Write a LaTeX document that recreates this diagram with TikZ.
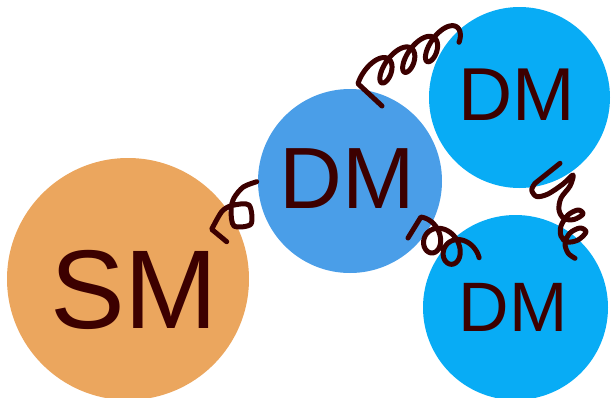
\documentclass[tikz,border=0pt]{standalone}
\usepackage{fontspec}
\setmainfont{Liberation Sans}
\definecolor{smorange}{RGB}{235,166,94}
\definecolor{dmblue}{RGB}{74,158,232}
\definecolor{dmcyan}{RGB}{8,172,245}
\definecolor{txtred}{RGB}{60,0,0}
% trochoid coil: start name, origin name, axis angle, r, d, shear, t0, t1
\newcommand\coildraw[8]{%
 \begin{scope}[shift={(#2)}]
 \draw[spring] (#1) -- plot[domain=#7:#8, samples=300, variable=\t]
 ({((#4)*\t + (#5)*sin(\t r) + (#6)*(#5)*cos(\t r))*cos(#3) + (#5)*cos(\t r)*sin(#3)},
  {((#4)*\t + (#5)*sin(\t r) + (#6)*(#5)*cos(\t r))*sin(#3) - (#5)*cos(\t r)*cos(#3)});
 \end{scope}}
\begin{document}
\begin{tikzpicture}[x=1pt,y=-1pt,
  ball/.style={circle, inner sep=0pt, draw=none},
  lbl/.style={text=txtred, inner sep=0pt},
  spring/.style={draw=txtred, line width=5pt, line cap=round, line join=round}]
\useasboundingbox (0,0) rectangle (611,397);
\clip (0,0) rectangle (611,397);
% balls
\node[ball, fill=smorange, minimum size=242pt] (sm) at (128,279) {};
\node[ball, fill=dmblue, minimum size=184pt] (dm1) at (350,181) {};
\node[ball, fill=dmcyan, minimum size=181pt] (dm2) at (519.5,97.5) {};
\node[ball, fill=dmcyan, minimum size=185pt] (dm3) at (515.5,307.5) {};
% labels
\node[lbl, font=\fontsize{112}{112}\selectfont] (smt) at (134,290) {SM};
\node[lbl, font=\fontsize{87}{87}\selectfont] (dm1t) at (347,179) {DM};
\node[lbl, font=\fontsize{75}{75}\selectfont] (dm2t) at (517,95) {DM};
\node[lbl, font=\fontsize{70}{70}\selectfont] (dm3t) at (513,307) {DM};
% coil end points and origins
\coordinate (c1a) at (226.7,241.7);
\coordinate (c1b) at (211.7,229.3);
\coordinate (c1c) at (256.7,181.7);
\coordinate (c2a) at (382,106);
\coordinate (o2) at (375.4,73.5);
\coordinate (c3a) at (408,238);
\coordinate (o3) at (423.5,233);
\coordinate (c4a) at (560,163.3);
\coordinate (c4b) at (535,183.3);
\coordinate (c4c) at (575,258.3);
% springs
\draw[spring] (c1a) -- (c1b) -- plot[smooth, tension=0.5] coordinates
  {(c1b) (221.7,211.7) (232,205.5) (249,205) (251,224) (234,226) (231,210) (234,198) (243.3,187) (c1c)};
\coildraw{c2a}{o2}{-25}{4.0}{12}{0.7}{-1.728}{21.05}
\coildraw{c3a}{o3}{30}{3.6}{14}{-0.175}{-0.471}{13.666}
\draw[spring] (c4a) -- (c4b) -- plot[smooth, tension=0.55] coordinates
  {(c4b) (531.7,190) (536.7,196.5) (548,194) (563,184) (573,175) (570,186) (561,198)
   (559,210) (564,218.5) (574,219.5) (583,214) (578,210) (568,215) (561,226) (561,236)
   (567,242) (578,240) (586,232) (580,228) (570,233) (565,243) (568,253) (c4c)};
\end{tikzpicture}
\end{document}
